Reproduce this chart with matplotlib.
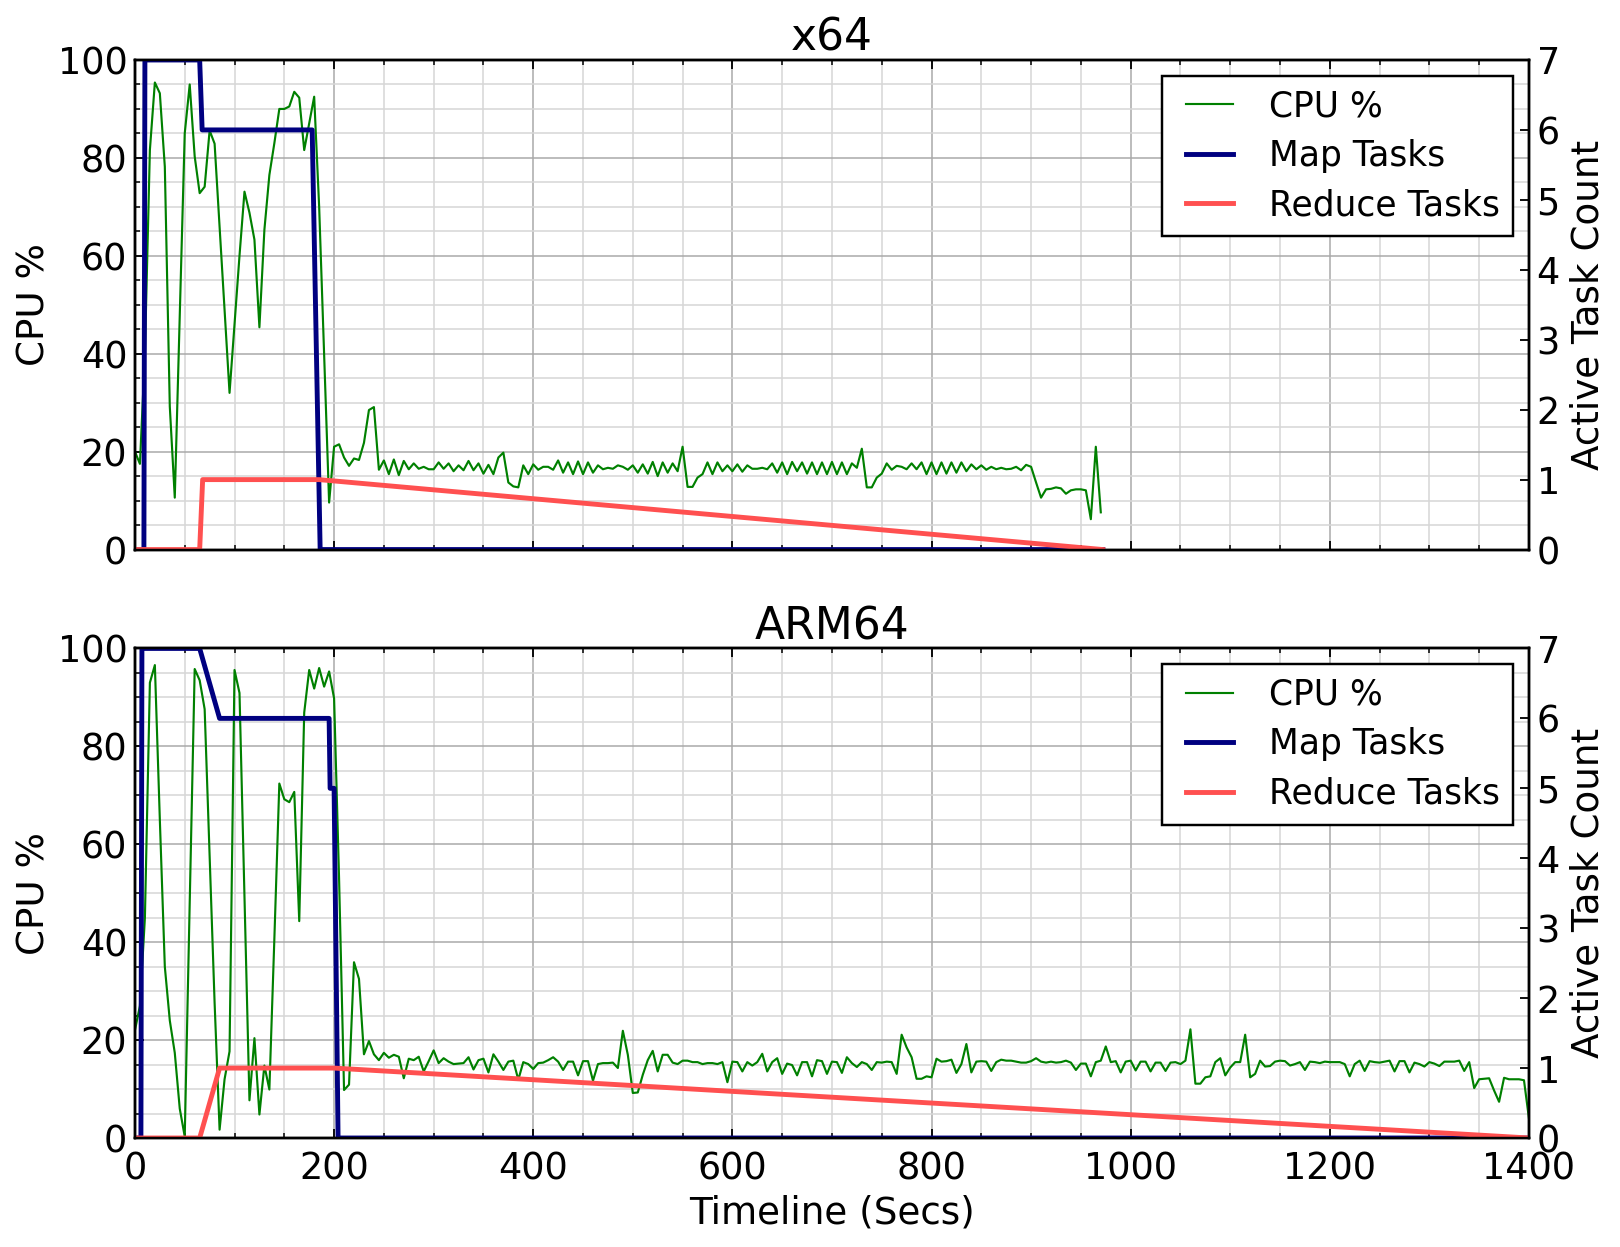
import numpy as np
import matplotlib
matplotlib.use("Agg")
import matplotlib.pyplot as plt
from matplotlib.ticker import MultipleLocator

# CPU samples are taken every 5 seconds
SAMPLE_SECS = 5

# x64 run, CPU % (rows of 10 samples = 50 s)
x64_cpu = [
    20, 17.5, 40, 81.6, 95.4, 93.2, 78.2, 29.2, 10.6, 48,          # 0
    85, 95, 80.3, 72.8, 74.1, 85.6, 82.9, 66, 49, 32,               # 50
    46, 60, 73.1, 68.8, 63.3, 45.4, 65.3, 76.5, 83, 90,             # 100
    90, 90.5, 93.5, 92.3, 81.6, 87, 92.5, 70, 40, 9.6,              # 150
    21, 21.5, 18.8, 17.1, 18.6, 18.3, 21.8, 28.5, 29.1, 16.3,       # 200
    18.2, 15.4, 18.4, 15.2, 18.1, 16.4, 17.6, 16.5, 16.9, 16.4,     # 250
    16.4, 17.8, 16.5, 17.6, 16, 17.2, 16.2, 18.1, 16.2, 17.6,       # 300
    15.5, 17.3, 15.4, 18.8, 19.8, 13.7, 12.9, 12.7, 17.2, 15.4,     # 350
    17.4, 16.3, 16.9, 16.9, 16.3, 18.2, 15.7, 17.8, 15.4, 18,       # 400
    15.4, 17.8, 15.7, 17.2, 16.4, 16.7, 16.5, 17.2, 16.9, 16.3,     # 450
    17.2, 15.7, 17.4, 15.5, 17.9, 15, 17.8, 15.7, 17.6, 16,         # 500
    21, 12.8, 12.8, 14.7, 15.4, 17.8, 15.4, 17.8, 16, 17.2,         # 550
    16, 17.4, 15.9, 17.2, 16.5, 16.5, 16.7, 16.4, 17.6, 15.7,       # 600
    17.8, 15.4, 17.9, 16, 17.8, 15.5, 17.8, 15.4, 17.8, 15.4,       # 650
    17.9, 15.4, 17.8, 15.4, 17.6, 16.7, 20.6, 12.7, 12.7, 14.7,     # 700
    15.5, 17.6, 16.3, 17.1, 16.9, 16.4, 17.6, 16.4, 17.8, 15.4,     # 750
    17.8, 15.4, 17.8, 15.5, 17.8, 15.7, 17.8, 16, 17.4, 16.4,       # 800
    17.2, 16.3, 16.9, 16.4, 16.7, 16.4, 16.5, 16.9, 16.2, 17.3,     # 850
    16.9, 13.7, 10.6, 12.3, 12.4, 12.7, 12.5, 11.4, 12.1, 12.3,     # 900
    12.3, 12.1, 6.2, 21, 7.6,                                       # 950
]

# x64 task counts (event breakpoints)
x64_map_t = [0, 9, 10, 65, 67.5, 178, 186, 972]
x64_map_v = [0, 0, 7, 7, 6, 6, 0, 0]
x64_reduce_t = [0, 65, 68, 185, 972]
x64_reduce_v = [0, 0, 1, 1, 0]

# ARM64 run, CPU %
arm_cpu = [
    22, 27, 45, 93, 96.6, 65, 35, 24, 17.4, 6,                      # 0
    0.3, 48, 95.8, 93.5, 87.6, 57.6, 27.6, 1.7, 12, 17.7,           # 50
    95.6, 90.9, 49, 7.7, 20.4, 4.8, 14.8, 9.9, 40.6, 72.4,          # 100
    69.2, 68.6, 70.7, 44.3, 86.9, 95.6, 91.8, 96, 92.2, 95.3,       # 150
    89.8, 53, 9.8, 10.9, 35.9, 32.5, 17.1, 19.8, 17.1, 15.9,        # 200
    17.4, 16.4, 17, 16.6, 12.2, 16.2, 15.9, 16.6, 13.6, 15.7,       # 250
    17.9, 15.3, 16.3, 15.6, 15.1, 15.2, 15.3, 16.5, 14, 15.9,       # 300
    16.2, 13.4, 17.1, 15.6, 13.9, 15.6, 15.8, 11.9, 15.5, 15.1,     # 350
    14.1, 15.3, 15.4, 15.9, 16.5, 15.6, 13.9, 15.6, 15.6, 12.8,     # 400
    15.7, 15.7, 11.7, 15.1, 15.3, 15.3, 15.4, 14.3, 21.9, 17,       # 450
    9.2, 9.3, 12.9, 15.9, 17.8, 13.6, 17, 17, 15.4, 15.1,           # 500
    15.8, 15.8, 15.5, 15.5, 15.1, 15.3, 15.3, 15.1, 15.5, 11.4,     # 550
    15.6, 15.5, 13.6, 15.5, 14.8, 15.5, 17.2, 13.6, 15.5, 16.3,     # 600
    13.1, 15.2, 14.9, 12.8, 15.5, 15.5, 12.6, 15.9, 15.7, 13.1,     # 650
    15.6, 15.5, 13.3, 16.5, 15.3, 14.5, 15.5, 15.1, 13.9, 15.5,     # 700
    15.4, 15.6, 15.5, 13.1, 21.1, 18.5, 16.5, 12.1, 12.1, 12.6,     # 750
    12.4, 16.2, 15.6, 15.7, 16, 13.3, 15.1, 19.2, 13.4, 15.6,       # 800
    15.7, 15.6, 13.7, 15.5, 16, 15.8, 15.8, 15.6, 15.4, 15.4,       # 850
    15.7, 16.3, 15.6, 15.4, 15.6, 15.4, 15.5, 15.8, 15.4, 13.9,     # 900
    15.2, 15.2, 12.6, 15.5, 15.8, 18.7, 15.5, 15.7, 13.4, 15.6,     # 950
    15.8, 13.8, 15.6, 15.6, 13.6, 15.4, 15.4, 13.7, 15.4, 15.5,     # 1000
    15.1, 15.8, 22.2, 11.1, 11.1, 12.4, 12.6, 15.5, 16.3, 12.8,     # 1050
    14.4, 15.5, 15.5, 21.1, 12.4, 13.1, 15.8, 14.6, 14.7, 15.6,     # 1100
    15.8, 15.7, 14.8, 15.1, 15.5, 13.9, 15.6, 15.5, 15.3, 15.6,     # 1150
    15.5, 15.5, 15.5, 15.1, 12.6, 15.1, 15.8, 13.7, 15.7, 15.5,     # 1200
    15.4, 15.6, 15.8, 13.6, 15.7, 15.7, 13.4, 15.4, 15.1, 14.6,     # 1250
    15.5, 15.2, 14.7, 15.6, 15.6, 15.6, 15.8, 13.7, 15.5, 10.2,     # 1300
    12, 12.1, 12.2, 9.7, 7.4, 12.3, 12, 12, 12, 11.8,               # 1350
    4,                                                              # 1400
]

arm_map_t = [0, 6, 7, 65, 85, 195, 196, 200, 204, 1400]
arm_map_v = [0, 0, 7, 7, 6, 6, 5, 5, 0, 0]
arm_reduce_t = [0, 65, 85, 200, 1400]
arm_reduce_v = [0, 0, 1, 1, 0]

GRID_MAJOR = "#a9a9a9"
GRID_MINOR = "#d6d6d6"
LABEL_SIZE = 12.2


def draw_panel(ax, title, cpu, map_t, map_v, red_t, red_v):
    t = np.arange(len(cpu)) * SAMPLE_SECS
    l1, = ax.plot(t, cpu, color="green", linewidth=0.7, label="CPU %")
    ax.set_xlim(0, 1400)
    ax.set_ylim(0, 100)
    ax.set_ylabel("CPU %", fontsize=LABEL_SIZE, labelpad=1.5)
    ax.set_title(title, fontsize=14.4, pad=3)

    ax.xaxis.set_major_locator(MultipleLocator(200))
    ax.xaxis.set_minor_locator(MultipleLocator(50))
    ax.yaxis.set_major_locator(MultipleLocator(20))
    ax.yaxis.set_minor_locator(MultipleLocator(5))
    ax.grid(which="major", color=GRID_MAJOR, linewidth=0.5)
    ax.grid(which="minor", color=GRID_MINOR, linewidth=0.5)
    ax.set_axisbelow(True)
    ax.tick_params(which="both", direction="in", top=True, right=False)
    ax.tick_params(which="major", length=3, width=0.6, labelsize=12)
    ax.tick_params(which="minor", length=1.5, width=0.5)
    ax.tick_params(axis="x", pad=4)
    ax.tick_params(axis="y", pad=2.5)

    ax2 = ax.twinx()
    l2, = ax2.plot(map_t, map_v, color="navy", linewidth=1.6, label="Map Tasks")
    l3, = ax2.plot(red_t, red_v, color="#ff5050", linewidth=1.6,
                   label="Reduce Tasks")
    ax2.set_ylim(0, 7)
    ax2.yaxis.set_major_locator(MultipleLocator(1))
    ax2.tick_params(which="major", direction="in", length=3, width=0.6,
                    labelsize=12, pad=2.5)
    ax2.set_ylabel("Active Task Count", fontsize=LABEL_SIZE, labelpad=3)

    for a in (ax, ax2):
        for sp in a.spines.values():
            sp.set_linewidth(0.8)

    leg = ax2.legend([l1, l2, l3], ["CPU %", "Map Tasks", "Reduce Tasks"],
                     loc="upper right", fontsize=11.3, numpoints=2,
                     handlelength=1.95, handletextpad=0.74, borderpad=0.4,
                     labelspacing=0.45, fancybox=False, framealpha=1,
                     borderaxespad=0.45)
    leg.get_frame().set_edgecolor("black")
    leg.get_frame().set_linewidth(0.8)
    return ax2


fig, (ax_top, ax_bot) = plt.subplots(2, 1, sharex=True,
                                     figsize=(1620 / 220, 1247 / 220), dpi=220)
fig.subplots_adjust(left=0.0833, right=0.9438, top=0.9519, bottom=0.0874,
                    hspace=0.202)

draw_panel(ax_top, "x64", x64_cpu, x64_map_t, x64_map_v,
           x64_reduce_t, x64_reduce_v)
draw_panel(ax_bot, "ARM64", arm_cpu, arm_map_t, arm_map_v,
           arm_reduce_t, arm_reduce_v)
ax_bot.set_xlabel("Timeline (Secs)", fontsize=LABEL_SIZE, labelpad=2.5)
ax_top.tick_params(labelbottom=False)

fig.savefig("out.png", dpi=220, facecolor="white")
